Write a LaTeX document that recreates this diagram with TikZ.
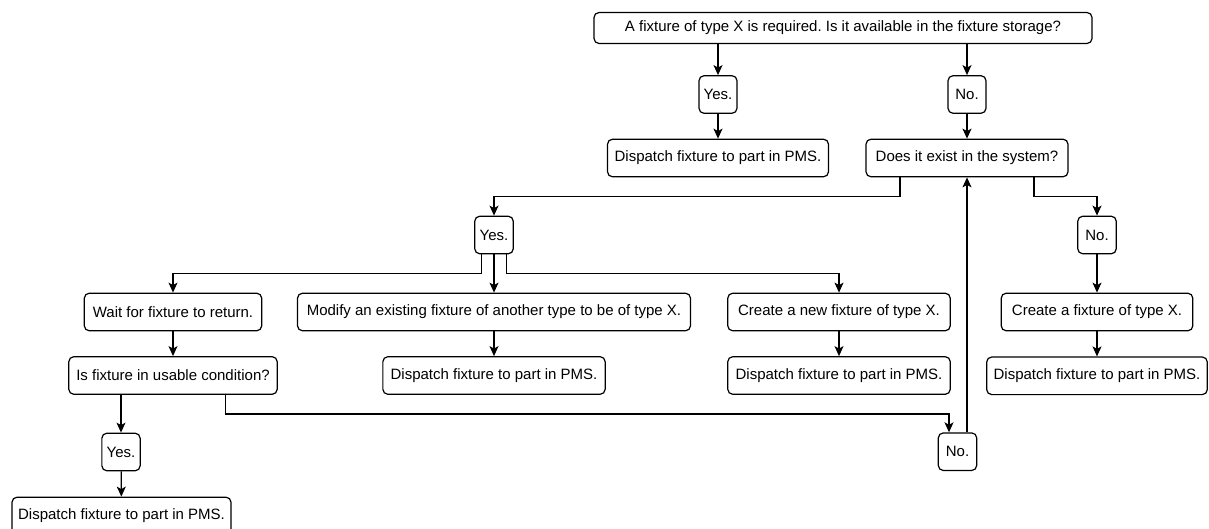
\documentclass[tikz,border=0pt]{standalone}
\usepackage{fontspec}
\setmainfont{Liberation Sans}
\usetikzlibrary{arrows.meta}
\frenchspacing

\tikzset{
  box/.style={draw, line width=1.2pt, rounded corners=5pt, fill=white,
    inner sep=0pt, minimum height=37.6pt, align=center,
    font=\fontsize{15}{18}\selectfont},
  arr/.style={draw, line width=1.2pt,
    -{Stealth[length=10pt,width=9pt,inset=2.5pt]}},
  wire/.style={draw, line width=1.2pt}
}

\begin{document}
\begin{tikzpicture}[x=1pt,y=-1pt]
\useasboundingbox (0,0) rectangle (1209,529);

% question at the top
\node[box, minimum width=498pt, minimum height=31pt] (top) at (843,28)
  {A fixture of type X is required. Is it available in the fixture storage?};

% first answer row
\node[box, minimum width=38pt] (yes1) at (718,94.5) {Yes.};
\node[box, minimum width=38pt] (no1) at (967,94.5) {No.};
\node[box, minimum width=221pt] (disp1) at (718,158) {Dispatch fixture to part in PMS.};
\node[box, minimum width=202pt] (exist) at (967,158) {Does it exist in the system?};

% second answer row
\node[box, minimum width=38.5pt] (yes2) at (494,235) {Yes.};
\node[box, minimum width=38.5pt] (no2) at (1097,235) {No.};

% actions
\node[box, minimum width=177.4pt] (wait) at (173,312) {Wait for fixture to return.};
\node[box, minimum width=393pt] (modify) at (494,312) {Modify an existing fixture of another type to be of type X.};
\node[box, minimum width=222.5pt] (createnew) at (839,312) {Create a new fixture of type X.};
\node[box, minimum width=191.6pt] (create) at (1097,312) {Create a fixture of type X.};

\node[box, minimum width=208.4pt] (usable) at (173,375.5) {Is fixture in usable condition?};
\node[box, minimum width=222.3pt] (dispmod) at (494,375.5) {Dispatch fixture to part in PMS.};
\node[box, minimum width=222.5pt] (dispnew) at (839,375.5) {Dispatch fixture to part in PMS.};
\node[box, minimum width=220.6pt] (dispright) at (1097,375.8) {Dispatch fixture to part in PMS.};

% usable-condition answers
\node[box, minimum width=38.3pt] (yes3) at (121,452) {Yes.};
\node[box, minimum width=38.4pt] (no3) at (957.5,451.7) {No.};
\node[box, minimum width=219pt] (dispbot) at (121.5,516) {Dispatch fixture to part in PMS.};

% connectors
\draw[arr] (top.south -| yes1) -- (yes1.north);
\draw[arr] (top.south -| no1) -- (no1.north);
\draw[arr] (yes1) -- (disp1);
\draw[arr] (no1) -- (exist);

\draw[arr] ([xshift=-67pt]exist.south) -- ++(0,19) -| (yes2.north);
\draw[arr] ([xshift=67pt]exist.south) -- ++(0,19) -| (no2.north);
\draw[arr] (no2) -- (create);

\draw[arr] ([xshift=-12.5pt]yes2.south) -- ++(0,19.2) -| (wait.north);
\draw[arr] (yes2.south) -- (modify.north);
\draw[arr] ([xshift=12.5pt]yes2.south) -- ++(0,19.2) -| (createnew.north);

\draw[arr] (wait) -- (usable);
\draw[arr] (modify) -- (dispmod);
\draw[arr] (createnew) -- (dispnew);
\draw[arr] (create) -- (dispright);

\draw[arr] (usable.south -| yes3) -- (yes3.north);
\draw[arr] (yes3) -- (dispbot);
\draw[arr] ([xshift=52.5pt]usable.south) -- ++(0,19) -| ([xshift=-8.5pt]no3.north);
\draw[arr] (exist.south |- no3.north) -- (exist.south);
\end{tikzpicture}
\end{document}
